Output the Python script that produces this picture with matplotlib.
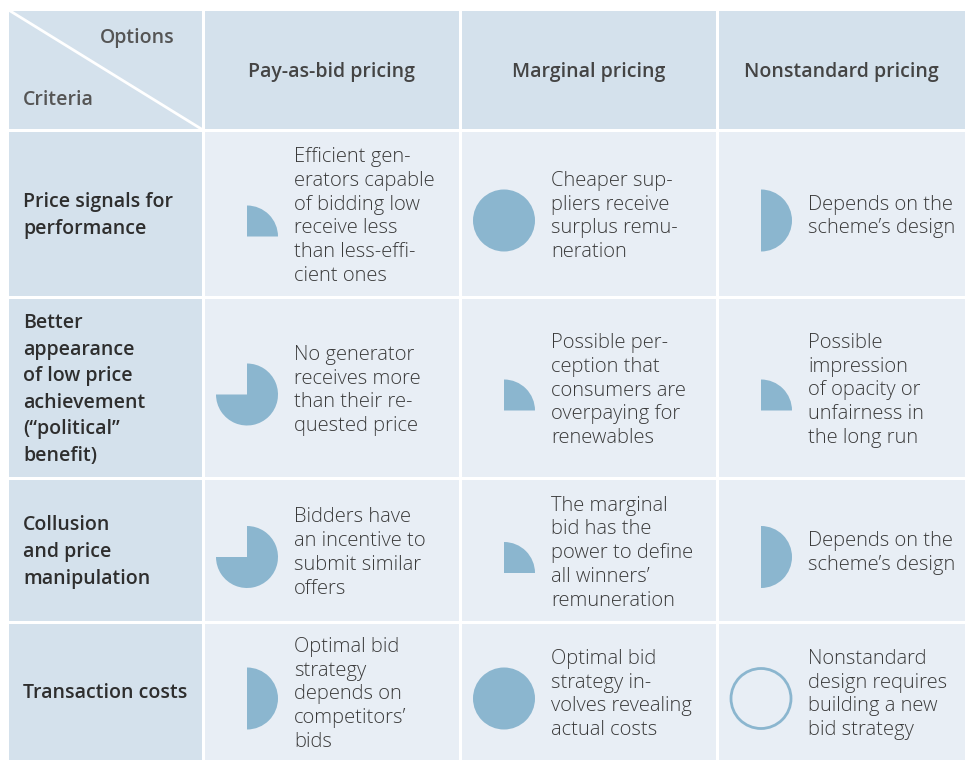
import matplotlib.pyplot as plt
from matplotlib.patches import Rectangle, Wedge, Circle

# table content
options = ["Pay-as-bid pricing", "Marginal pricing", "Nonstandard pricing"]
criteria = [
    "Price signals for\nperformance",
    "Better\nappearance\nof low price\nachievement\n(\u201cpolitical\u201d\nbenefit)",
    "Collusion\nand price\nmanipulation",
    "Transaction costs",
]
# harvey ball scores (0 = empty, 1 = full)
scores = [
    [0.25, 1.0, 0.5],
    [0.75, 0.25, 0.25],
    [0.75, 0.25, 0.5],
    [0.5, 1.0, 0.0],
]
comments = [
    ["Efficient gen-\nerators capable\nof bidding low\nreceive less\nthan less-effi-\ncient ones",
     "Cheaper sup-\npliers receive\nsurplus remu-\nneration",
     "Depends on the\nscheme\u2019s design"],
    ["No generator\nreceives more\nthan their re-\nquested price",
     "Possible per-\nception that\nconsumers are\noverpaying for\nrenewables",
     "Possible\nimpression\nof opacity or\nunfairness in\nthe long run"],
    ["Bidders have\nan incentive to\nsubmit similar\noffers",
     "The marginal\nbid has the\npower to define\nall winners\u2019\nremuneration",
     "Depends on the\nscheme\u2019s design"],
    ["Optimal bid\nstrategy\ndepends on\ncompetitors\u2019\nbids",
     "Optimal bid\nstrategy in-\nvolves revealing\nactual costs",
     "Nonstandard\ndesign requires\nbuilding a new\nbid strategy"],
]

W, H = 966, 761
col_edges = [7, 203, 460, 717, 966]
row_edges = [9, 130, 297, 478, 622, 761]

HEAD_BG = "#d4e1ec"
CELL_BG = "#e8eef5"
BALL = "#8bb6cf"
TXT = "#3a3a3a"
R = 31

fig = plt.figure(figsize=(W / 100, H / 100), dpi=100)
ax = fig.add_axes([0, 0, 1, 1])
ax.set_xlim(0, W)
ax.set_ylim(0, H)
ax.axis("off")


def Y(py):
    return H - py


def cell(x0, x1, y0, y1, color):
    g = 1.5
    ax.add_patch(Rectangle((x0 + g, Y(y1) + g), x1 - x0 - 2 * g, y1 - y0 - 2 * g,
                           facecolor=color, edgecolor="none"))


def harvey(cx, cy, s):
    if s <= 0:
        ax.add_patch(Circle((cx, Y(cy)), R - 1, facecolor="none", edgecolor=BALL, lw=2))
    elif s >= 1:
        ax.add_patch(Circle((cx, Y(cy)), R, facecolor=BALL, edgecolor="none"))
    else:
        if s == 0.25:
            cy = cy + 16  # quarter sits lower in the cell
        ax.add_patch(Wedge((cx, Y(cy)), R, 90 - 360 * s, 90, facecolor=BALL, edgecolor="none"))


# header row
for c in range(4):
    cell(col_edges[c], col_edges[c + 1], row_edges[0], row_edges[1], HEAD_BG)
ax.plot([col_edges[0], col_edges[1]], [Y(row_edges[0]), Y(row_edges[1])], color="white", lw=2)
ax.text(137, Y(38), "Options", fontsize=14, fontweight="semibold", color="#555555",
        ha="center", va="center", family="Open Sans")
ax.text(23, Y(100), "Criteria", fontsize=14, fontweight="semibold", color="#555555",
        ha="left", va="center", family="Open Sans")
for c, name in enumerate(options):
    xc = (col_edges[c + 1] + col_edges[c + 2]) / 2
    ax.text(xc, Y(72), name, fontsize=14, fontweight="semibold", color="#444444",
            ha="center", va="center", family="Open Sans")

# body rows
for r in range(4):
    y0, y1 = row_edges[r + 1], row_edges[r + 2]
    yc = (y0 + y1) / 2
    cell(col_edges[0], col_edges[1], y0, y1, HEAD_BG)
    ax.text(23, Y(yc + 2), criteria[r], fontsize=14, fontweight="semibold", color="#2e2e2e",
            ha="left", va="center", linespacing=1.44, family="Open Sans")
    for c in range(3):
        x0, x1 = col_edges[c + 1], col_edges[c + 2]
        cell(x0, x1, y0, y1, CELL_BG)
        harvey(x0 + 44, yc + 7, scores[r][c])
        ax.text(x0 + 91, Y(yc + 3), comments[r][c], fontsize=14.5, fontweight="light",
                color=TXT, ha="left", va="center", linespacing=1.25, family="Open Sans")

fig.savefig("out.png", dpi=100, facecolor="white")
